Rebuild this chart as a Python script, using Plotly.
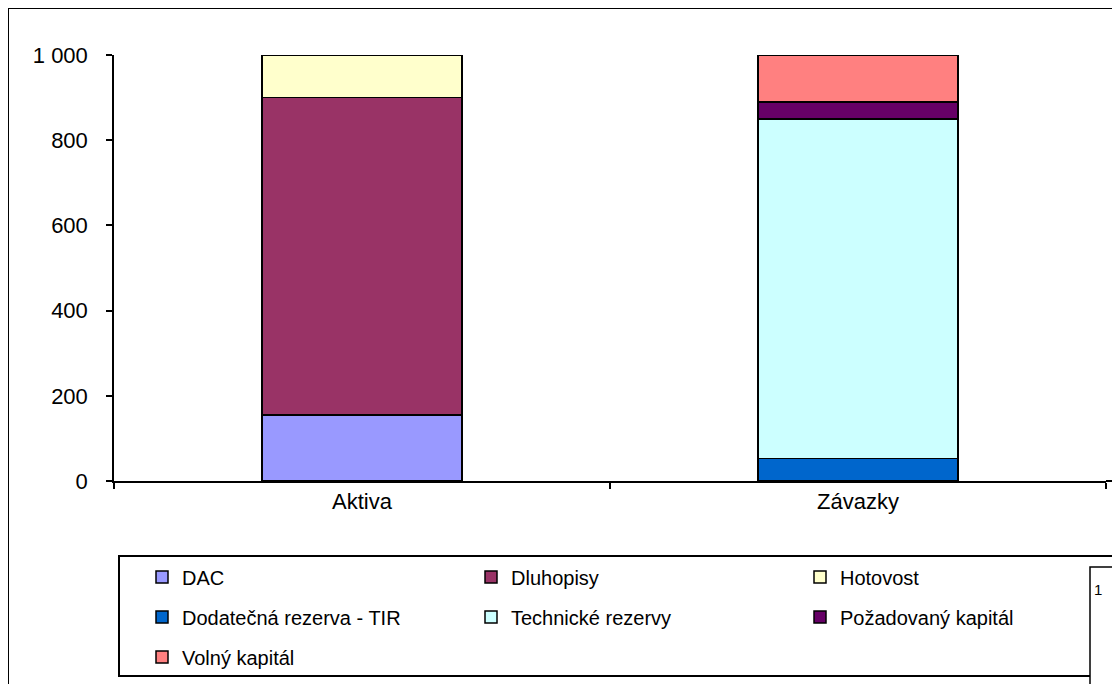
import plotly.graph_objects as go

categories = ["Aktiva", "Závazky"]

# values per category (None where the series is not part of that bar)
dac = [155, None]
dluhopisy = [745, None]
hotovost = [100, None]
rezerva_tir = [None, 53]
technicke_rezervy = [None, 797]
pozadovany_kapital = [None, 40]
volny_kapital = [None, 110]

y_ticks = [0, 200, 400, 600, 800, 1000]

series = [
    ("DAC", dac, "#9999FF", "legend"),
    ("Dluhopisy", dluhopisy, "#993366", "legend"),
    ("Hotovost", hotovost, "#FFFFCC", "legend"),
    ("Dodatečná rezerva - TIR", rezerva_tir, "#0066CC", "legend2"),
    ("Technické rezervy", technicke_rezervy, "#CCFFFF", "legend2"),
    ("Požadovaný kapitál", pozadovany_kapital, "#660066", "legend2"),
    ("Volný kapitál", volny_kapital, "#FF8080", "legend3"),
]

FONT = "Liberation Sans, Arial, sans-serif"
# page body has an 8px margin, so the figure starts at (8, 8)
W, H = 1112, 676
OFF = 8

fig = go.Figure()
for name, vals, color, leg in series:
    fig.add_trace(go.Bar(
        name=name, x=categories, y=vals, legend=leg,
        marker=dict(color=color, line=dict(color="black", width=1.5)),
        width=0.403,
    ))

# screen pixel -> paper helpers (plot area 114..1106 x 55..481 on screen)
def px(x):
    return (x - 114) / 992.0

def py(y):
    return (481 - y) / 426.0

def cy(y):
    return (H - (y - OFF)) / H

legend_common = dict(
    orientation="h", xref="container", yref="container",
    xanchor="left", yanchor="middle", x=134 / W,
    entrywidth=284, borderwidth=0, bgcolor="rgba(0,0,0,0)",
    font=dict(family=FONT, size=20, color="black"), itemwidth=30,
    traceorder="normal",
)

fig.update_layout(
    width=W, height=H,
    margin=dict(l=114 - OFF, r=W - (1106 - OFF), t=55 - OFF,
                b=H - (481 - OFF), autoexpand=False),
    paper_bgcolor="white", plot_bgcolor="white",
    barmode="stack",
    separators=", ",
    font=dict(family=FONT, size=20, color="black"),
    legend=dict(legend_common, y=cy(577)),
    legend2=dict(legend_common, y=cy(617)),
    legend3=dict(legend_common, y=cy(657)),
    xaxis=dict(
        showline=True, linecolor="black", linewidth=2,
        ticks="outside", ticklen=6, tickcolor="black", tickwidth=1.5,
        tickson="boundaries", showgrid=False,
        tickfont=dict(family=FONT, size=22),
    ),
    yaxis=dict(
        range=[0, 1000], tickvals=y_ticks, tickformat=",d",
        showline=True, linecolor="black", linewidth=1.5,
        ticks="outside", ticklen=6, tickcolor="black", tickwidth=1.5,
        showgrid=False, zeroline=False, ticklabelstandoff=14,
        tickfont=dict(family=FONT, size=22),
    ),
    shapes=[
        # outer chart border
        dict(type="rect", xref="paper", yref="paper",
             x0=px(8), x1=1.05, y0=-0.6, y1=py(8),
             line=dict(color="black", width=2), fillcolor="rgba(0,0,0,0)"),
        # legend box
        dict(type="rect", xref="paper", yref="paper",
             x0=px(119), x1=1.05, y0=py(676), y1=py(556),
             line=dict(color="black", width=2), fillcolor="rgba(0,0,0,0)"),
        # small box at the right edge
        dict(type="rect", xref="paper", yref="paper",
             x0=px(1090), x1=1.05, y0=-0.6, y1=py(567),
             line=dict(color="black", width=1.5), fillcolor="white"),
        # x axis line running on to the edge
        dict(type="line", xref="paper", yref="paper",
             x0=1, x1=1.05, y0=0, y1=0,
             line=dict(color="black", width=2)),
    ],
    annotations=[
        dict(text="1", xref="paper", yref="paper", x=px(1104), y=py(600),
             showarrow=False, font=dict(family=FONT, size=15)),
    ],
)

fig.write_html("out.html")
